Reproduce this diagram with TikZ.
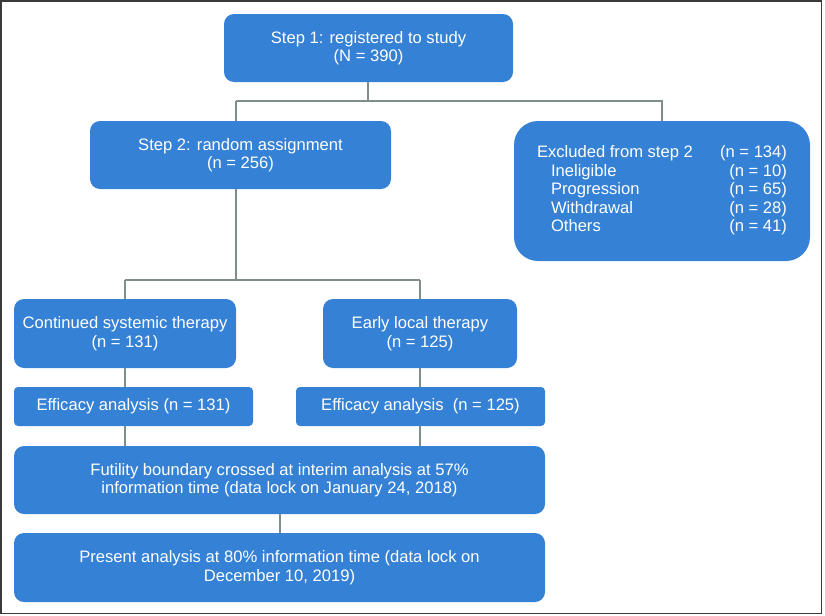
\documentclass[tikz,border=0pt]{standalone}
\usepackage{fontspec}
\setmainfont{Liberation Sans}
\definecolor{boxblue}{HTML}{3581D5}
\definecolor{linegray}{HTML}{7F8E8B}
\definecolor{framegray}{HTML}{3A3A3A}
\begin{document}
\begin{tikzpicture}[x=1pt,y=-1pt,
  box/.style={fill=boxblue,draw=none,rounded corners=10pt,text=white,align=center,
    inner sep=0pt,font=\fontsize{16.6}{18.5}\selectfont},
  smallbox/.style={box,rounded corners=4pt},
  conn/.style={draw=linegray,line width=2pt}]
\useasboundingbox (0,0) rectangle (825,616);
\draw[framegray,line width=1.5pt] (1,1.2) rectangle (821.5,613.5);

\node[box,minimum width=289pt,minimum height=68pt] (s1) at (368.5,48) {Step 1: registered to study\\(N = 390)};
\node[box,minimum width=301pt,minimum height=68pt] (s2) at (240.5,155) {Step 2: random assignment\\(n = 256)};
\node[box,rounded corners=24pt,minimum width=296pt,minimum height=140pt] (ex) at (662,191) {%
\begin{tabular*}{250pt}{@{}l@{\extracolsep{\fill}}r@{}}
Excluded from step 2 & (n = 134)\\
\hspace{14pt}Ineligible & (n = 10)\\
\hspace{14pt}Progression & (n = 65)\\
\hspace{14pt}Withdrawal & (n = 28)\\
\hspace{14pt}Others & (n = 41)
\end{tabular*}};
\node[box,minimum width=222pt,minimum height=69pt] (cs) at (125,333.5) {Continued systemic therapy\\(n = 131)};
\node[box,minimum width=194pt,minimum height=69pt] (el) at (420,333.5) {Early local therapy\\(n = 125)};
\node[smallbox,minimum width=239pt,minimum height=39pt] (ea) at (133.5,406.5) {Efficacy analysis (n = 131)};
\node[smallbox,minimum width=249pt,minimum height=39pt] (eb) at (420.5,406.5) {Efficacy analysis\ \ (n = 125)};
\node[box,minimum width=531pt,minimum height=68pt] (fu) at (279.5,480) {Futility boundary crossed at interim analysis at 57\%\\information time (data lock on January 24, 2018)};
\node[box,minimum width=531pt,minimum height=69pt] (pa) at (279.5,567.5) {Present analysis at 80\% information time (data lock on\\December 10, 2019)};

\coordinate (j1) at (368,101);
\coordinate (j1l) at (236,101);
\coordinate (j2) at (236,280);
\coordinate (j3) at (280,480);

\draw[conn] (s1.south -| j1) -- (j1);
\draw[conn] (j1l) -- (j1l |- s2.north);
\draw[conn] (j1l) -- (j1 -| ex.north) -- (ex.north);
\draw[conn] (j2 |- s2.south) -- (j2);
\draw[conn] (j2 -| cs.north) -- (j2 -| el.north);
\draw[conn] (j2 -| cs.north) -- (cs.north);
\draw[conn] (j2 -| el.north) -- (el.north);
\draw[conn] (cs.south) -- (cs.south |- ea.north);
\draw[conn] (el.south) -- (el.south |- eb.north);
\draw[conn] (ea.south -| cs.south) -- (cs.south |- fu.north);
\draw[conn] (eb.south -| el.south) -- (el.south |- fu.north);
\draw[conn] (fu.south -| j3) -- (pa.north -| j3);
\end{tikzpicture}
\end{document}
